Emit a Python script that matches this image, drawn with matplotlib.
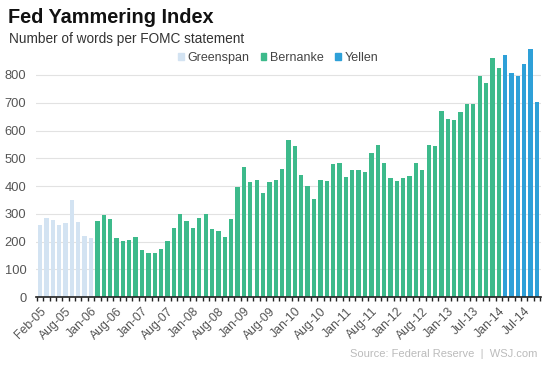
import matplotlib
matplotlib.use("Agg")
import matplotlib.pyplot as plt
from matplotlib.patches import Patch

plt.rcParams['font.family'] = ['Liberation Sans', 'DejaVu Sans']

# FOMC meeting dates and word counts per statement
dates = [
    "Feb-05", "Mar-05", "May-05", "Jun-05", "Aug-05", "Sep-05", "Nov-05", "Dec-05",
    "Jan-06", "Mar-06", "May-06", "Jun-06", "Aug-06", "Sep-06", "Oct-06", "Dec-06",
    "Jan-07", "Mar-07", "May-07", "Jun-07", "Aug-07", "Sep-07", "Oct-07", "Dec-07",
    "Jan-08", "Mar-08", "Apr-08", "Jun-08", "Aug-08", "Sep-08", "Oct-08", "Dec-08",
    "Jan-09", "Mar-09", "Apr-09", "Jun-09", "Aug-09", "Sep-09", "Nov-09", "Dec-09",
    "Jan-10", "Mar-10", "Apr-10", "Jun-10", "Aug-10", "Sep-10", "Nov-10", "Dec-10",
    "Jan-11", "Mar-11", "Apr-11", "Jun-11", "Aug-11", "Sep-11", "Nov-11", "Dec-11",
    "Jan-12", "Mar-12", "Apr-12", "Jun-12", "Aug-12", "Sep-12", "Oct-12", "Dec-12",
    "Jan-13", "Mar-13", "May-13", "Jun-13", "Jul-13", "Sep-13", "Oct-13", "Dec-13",
    "Jan-14", "Mar-14", "Apr-14", "Jun-14", "Jul-14", "Sep-14", "Oct-14",
]

greenspan = [258, 285, 279, 258, 267, 349, 270, 219, 212]

bernanke = [
    275, 296, 281, 213, 203, 207, 216, 171, 160, 159, 172, 202, 250, 298, 275, 248,
    285, 300, 244, 239, 216, 282, 397, 470, 415, 421, 375, 416, 421, 460, 565, 543,
    438, 401, 352, 423, 419, 478, 484, 431, 456, 457, 451, 519, 549, 484, 428, 417,
    428, 437, 482, 457, 548, 544, 672, 642, 638, 666, 695, 697, 796, 772, 863, 826,
]

yellen = [873, 808, 796, 838, 892, 703]

label_every = 4

c_greenspan = "#d3e3f2"
c_bernanke = "#3dba8b"
c_yellen = "#2ea0d8"

values = greenspan + bernanke + yellen
colors = ([c_greenspan] * len(greenspan) + [c_bernanke] * len(bernanke)
          + [c_yellen] * len(yellen))
x = list(range(len(values)))

fig = plt.figure(figsize=(5.53, 3.69), dpi=100)
ax = fig.add_axes([0.0655, 0.195, 0.9125, 0.677])

ax.bar(x, values, width=0.68, color=colors, zorder=2)

ax.set_ylim(0, 900)
ax.set_xlim(-0.6, len(values) - 0.4)
ax.set_yticks(range(0, 900, 100))
ax.grid(axis="y", color="#e2e2e2", linewidth=0.8, zorder=0)

for side in ["top", "right", "left"]:
    ax.spines[side].set_visible(False)
ax.spines["bottom"].set_color("#222222")
ax.spines["bottom"].set_linewidth(1.2)

ax.tick_params(axis="y", length=0, labelsize=9.3, labelcolor="#555555", pad=7)

# labels every 4th meeting, small ticks between every bar
ax.set_xticks(x[::label_every])
ax.set_xticklabels(dates[::label_every], rotation=45, ha="right",
                   rotation_mode="anchor", fontsize=8.8, color="#555555")
ax.tick_params(axis="x", which="major", length=0, pad=6)
ax.set_xticks([i - 0.5 for i in range(len(values) + 1)], minor=True)
ax.tick_params(axis="x", which="minor", length=3, width=1, color="#222222")

fig.text(0.014, 0.952, "Fed Yammering Index", fontsize=14.3, fontweight="bold",
         color="#111111", va="center")
fig.text(0.017, 0.893, "Number of words per FOMC statement", fontsize=9.8,
         color="#333333", va="center")

handles = [Patch(color=c_greenspan, label="Greenspan"),
           Patch(color=c_bernanke, label="Bernanke"),
           Patch(color=c_yellen, label="Yellen")]
fig.legend(handles=handles, loc="center", bbox_to_anchor=(0.503, 0.843), ncol=3,
           frameon=False, fontsize=9, handlelength=0.45, handleheight=0.45,
           handletextpad=0.3, columnspacing=0.9, labelcolor="#444444")

fig.text(0.972, 0.04, "Source: Federal Reserve  |  WSJ.com", fontsize=8,
         color="#bbbbbb", ha="right", va="center")

fig.savefig("out.png", dpi=100)
